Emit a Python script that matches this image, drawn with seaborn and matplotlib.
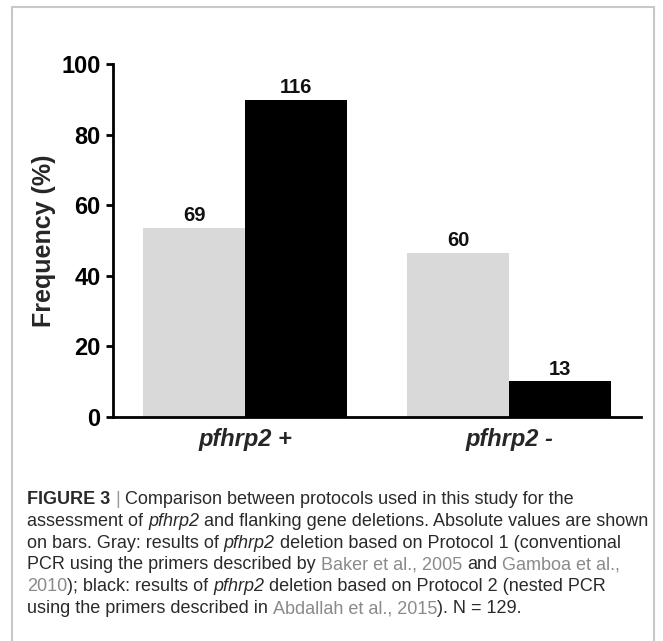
import pandas as pd
import matplotlib.pyplot as plt
import matplotlib.patches as mpatches
import seaborn as sns

# data
categories = ["pfhrp2 +", "pfhrp2 -"]
protocols = ["Protocol 1", "Protocol 2"]
freq_p1 = [53.5, 46.5]     # gray bars (%)
freq_p2 = [89.9, 10.1]     # black bars (%)
counts_p1 = [69, 60]
counts_p2 = [116, 13]
yticks = [0, 20, 40, 60, 80, 100]

sns.set_theme(style="ticks")
plt.rcParams.update({
    'font.family': ['Liberation Sans', 'DejaVu Sans'],
    'axes.linewidth': 2.0,
    'ytick.major.width': 2.0,
    'ytick.major.size': 5,
})

df = pd.DataFrame({
    "Category": categories * 2,
    "Protocol": [protocols[0]] * 2 + [protocols[1]] * 2,
    "Frequency": freq_p1 + freq_p2,
})

W, H = 663, 641
fig = plt.figure(figsize=(W / 100, H / 100), dpi=100)
ax = fig.add_axes([113 / W, 1 - 417 / H, (641 - 113) / W, (417 - 64) / H])

sns.barplot(data=df, x="Category", y="Frequency", hue="Protocol",
            palette=["#d9d9d9", "black"], width=0.77, linewidth=0,
            legend=False, ax=ax)

for cont, lab in zip(ax.containers, [counts_p1, counts_p2]):
    ax.bar_label(cont, labels=[str(v) for v in lab], padding=2,
                 fontsize=14.5, fontweight='bold', color='#111111')

ax.set_ylim(0, 100)
ax.set_xlim(-0.5, 1.5)
ax.set_yticks(yticks)
ax.set_yticklabels([str(v) for v in yticks], fontsize=17, fontweight='bold')
ax.set_xticks([0, 1])
ax.set_xticklabels(categories, fontsize=17, fontweight='bold', style='italic')
ax.tick_params(axis='x', length=0, pad=8)
ax.tick_params(axis='y', pad=4, colors='black')
ax.set_xlabel("")
ax.set_ylabel("Frequency (%)", fontsize=18, fontweight='bold')
ax.yaxis.set_label_coords(-0.108, 0.5)
sns.despine(ax=ax)
for s in ["left", "bottom"]:
    ax.spines[s].set_color("black")

# outer frame of the figure panel
fig.patches.append(mpatches.Rectangle((12 / W, -0.02), (654 - 12) / W, 1.02 - 7 / H,
                                      transform=fig.transFigure, fill=False,
                                      edgecolor='#c8c8c8', linewidth=1.5))

# caption with mixed styles
cap_font = ['Liberation Sans', 'DejaVu Sans']
dark, link = '#2a2a2a', '#8a8a8a'
styles = {
    'n': dict(color=dark),
    'b': dict(color=dark, fontweight='bold'),
    'i': dict(color=dark, style='italic'),
    'g': dict(color=link),
    'sep': dict(color='#9a9a9a'),
}
caption = [
    [("FIGURE 3", 'b', True), ("|", 'sep', True),
     ("Comparison between protocols used in this study for the", 'n', True)],
    [("assessment of", 'n', True), ("pfhrp2", 'i', True),
     ("and flanking gene deletions. Absolute values are shown", 'n', True)],
    [("on bars. Gray: results of", 'n', True), ("pfhrp2", 'i', True),
     ("deletion based on Protocol 1 (conventional", 'n', True)],
    [("PCR using the primers described by", 'n', True), ("Baker et al., 2005", 'g', True),
     ("and", 'n', True), ("Gamboa et al.,", 'g', True)],
    [("2010", 'g', True), ("); black: results of", 'n', False), ("pfhrp2", 'i', True),
     ("deletion based on Protocol 2 (nested PCR", 'n', True)],
    [("using the primers described in", 'n', True), ("Abdallah et al., 2015", 'g', True),
     ("). N = 129.", 'n', False)],
]
cap_size = 13.0
renderer = fig.canvas.get_renderer()
t1 = fig.text(0, 0, "aa", fontsize=cap_size, family=cap_font)
t2 = fig.text(0, 0, "a a", fontsize=cap_size, family=cap_font)
space = t2.get_window_extent(renderer).width - t1.get_window_extent(renderer).width
t1.remove()
t2.remove()

y0, dy = 504, 21.8
for k, line in enumerate(caption):
    x = 27.0
    y = y0 + k * dy
    for j, (txt, st, sp) in enumerate(line):
        if j > 0 and sp:
            x += space
        t = fig.text(x / W, 1 - y / H, txt, fontsize=cap_size, family=cap_font,
                     va='baseline', ha='left', **styles[st])
        x += t.get_window_extent(renderer).width

fig.savefig("out.png", dpi=100)
